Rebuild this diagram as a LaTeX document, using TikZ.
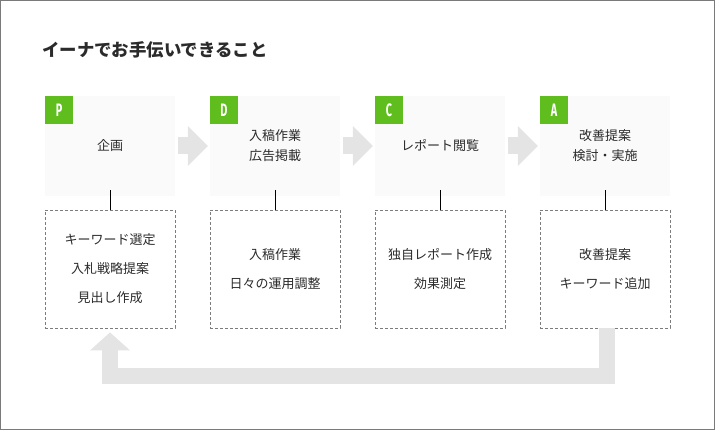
\documentclass[tikz,border=0pt]{standalone}
\usepackage{fontspec}
\setmainfont{Noto Sans CJK JP}
\newfontfamily\badgefont[FakeStretch=0.6]{Fira Sans}
\usetikzlibrary{arrows.meta}
\definecolor{leaf}{HTML}{5FBE1E}
\definecolor{phasebg}{HTML}{FAFAFA}
\definecolor{flowgray}{HTML}{E4E4E4}
\definecolor{dashgray}{HTML}{7C7C7C}
\definecolor{ink}{HTML}{2B2B2B}
\definecolor{framegray}{HTML}{7A7A7A}

\begin{document}
\begin{tikzpicture}[
  x=1pt,y=-1pt,
  font=\fontsize{13}{20}\selectfont, text=ink,
  phase/.style={fill=phasebg,minimum width=130pt,minimum height=100pt,
    align=center,inner sep=0pt},
  badge/.style={fill=leaf,text=white,minimum size=28pt,inner sep=0pt,
    anchor=north west,font=\badgefont\bfseries\fontsize{18}{18}\selectfont},
  task/.style={draw=dashgray,dash pattern=on 3pt off 2pt,line width=.8pt,
    minimum width=130pt,minimum height=118pt,align=center,inner sep=0pt,
    font=\fontsize{13}{29}\selectfont},
  link/.style={draw=black,line width=.8pt},
  handoff/.style={draw=flowgray,line width=17pt,
    -{Triangle[length=20pt,width=40pt,line width=0pt]},
    shorten <=3pt,shorten >=2pt},
  feedback/.style={draw=flowgray,line width=16pt,
    -{Triangle[length=18pt,width=40pt,line width=0pt]},shorten >=4pt},
  heading/.style={font=\fontsize{17.4}{20}\selectfont\bfseries,anchor=west,inner sep=0pt}
]
\useasboundingbox (0,0) rectangle (715,430);
\draw[framegray,line width=1.2pt] (0.6,0.6) rectangle (714.4,429.4);

\node[heading] (title) at (42,50) {イーナでお手伝いできること};

% PDCA phases
\node[phase] (plan)  at (110,146) {企画};
\node[phase] (do)    at (275,146) {入稿作業\\広告掲載};
\node[phase] (check) at (440,146) {レポート閲覧};
\node[phase] (act)   at (605,146) {改善提案\\検討・実施};

\node[badge] (planbadge)  at (plan.north west)  {P};
\node[badge] (dobadge)    at (do.north west)    {D};
\node[badge] (checkbadge) at (check.north west) {C};
\node[badge] (actbadge)   at (act.north west)   {A};

\draw[handoff] (plan.east) -- (do.west);
\draw[handoff] (do.east) -- (check.west);
\draw[handoff] (check.east) -- (act.west);

% what is done in each phase
\node[task] (plantask)  at (110,269) {キーワード選定\\入札戦略提案\\見出し作成};
\node[task] (dotask)    at (275,269) {入稿作業\\日々の運用調整};
\node[task] (checktask) at (440,269) {独自レポート作成\\効果測定};
\node[task] (acttask)   at (605,269) {改善提案\\キーワード追加};

\draw[link] ([yshift=6pt]plan.south) -- (plantask.north);
\draw[link] ([yshift=6pt]do.south) -- (dotask.north);
\draw[link] ([yshift=6pt]check.south) -- (checktask.north);
\draw[link] ([yshift=6pt]act.south) -- (acttask.north);

% back to the start of the cycle
\draw[feedback] ([xshift=2pt]acttask.south) -- ++(0,47.5) -| (plantask.south);

\end{tikzpicture}
\end{document}
